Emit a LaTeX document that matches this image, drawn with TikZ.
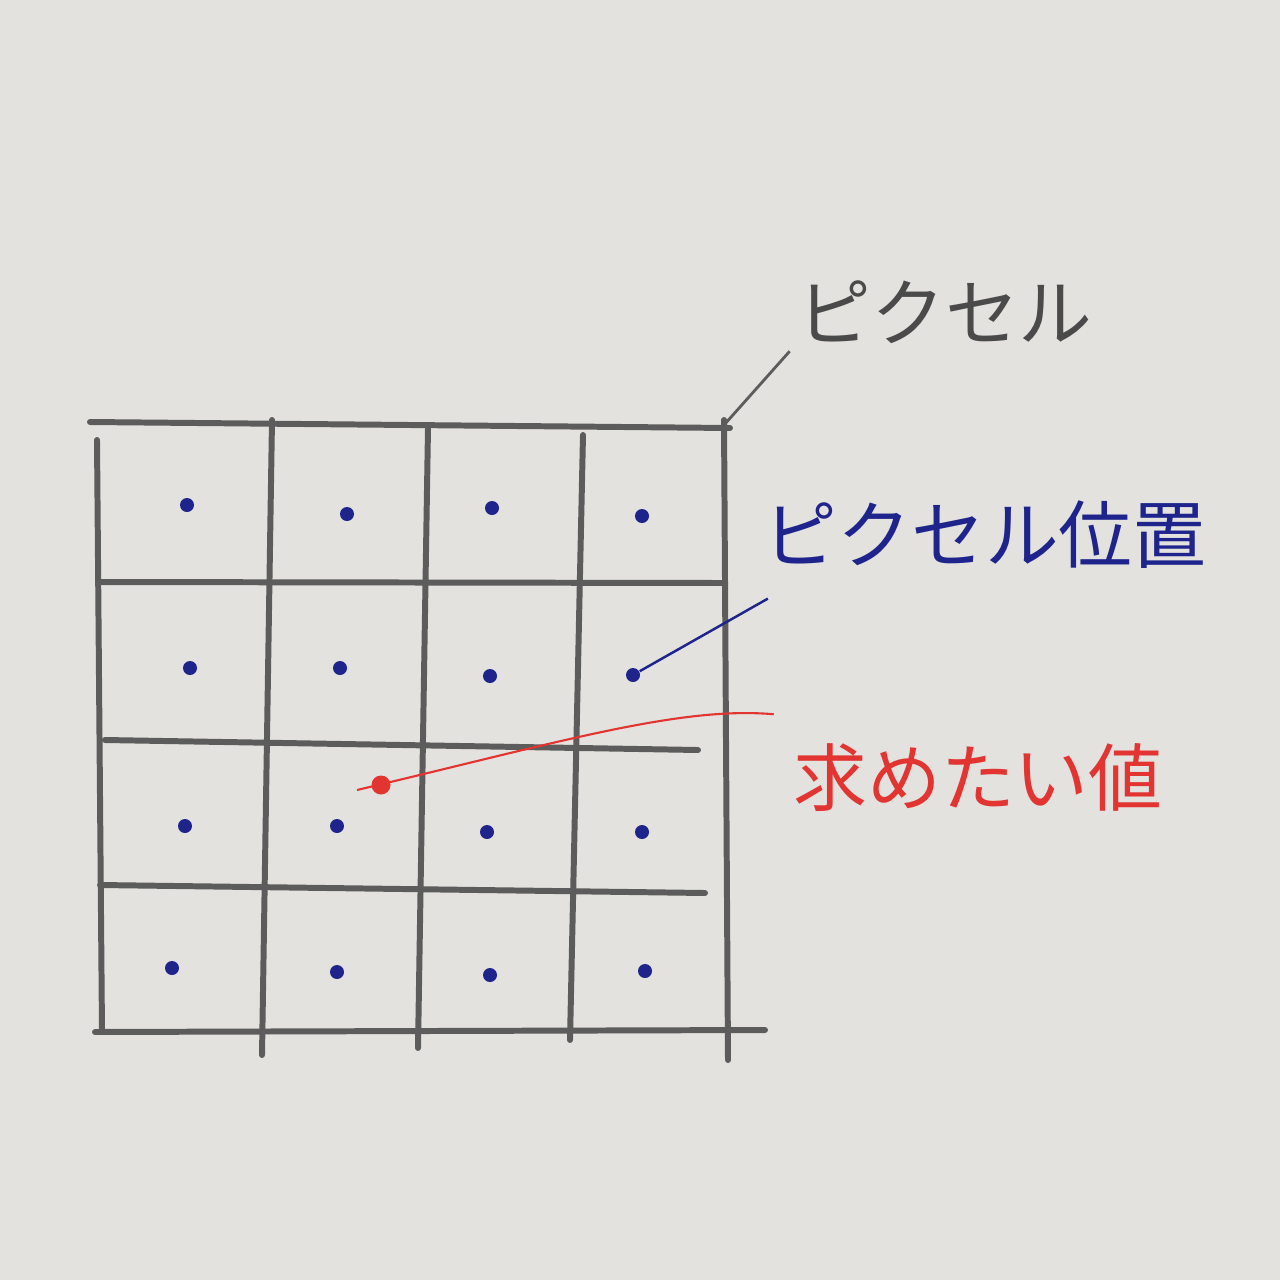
\documentclass[tikz,border=0pt]{standalone}
\usepackage{fontspec}
\newfontfamily\jpfont{Noto Sans CJK JP}
\usetikzlibrary{positioning}

\definecolor{paper}{RGB}{227,226,223}
\definecolor{pencil}{RGB}{92,92,92}
\definecolor{inkblue}{RGB}{30,36,140}
\definecolor{inkred}{RGB}{226,52,48}

\tikzset{
  gridline/.style={draw=pencil, line width=1.7pt, line cap=round},
  pixdot/.style={circle, fill=inkblue, inner sep=0pt, minimum size=1.4mm},
  reddot/.style={circle, fill=inkred, inner sep=0pt, minimum size=1.9mm},
  handlabel/.style={font=\jpfont\fontsize{21}{25}\selectfont, inner sep=2pt}
}

\begin{document}
\begin{tikzpicture}[x=0.1mm, y=-0.1mm]
  \useasboundingbox[fill=paper] (0,0) rectangle (1280,1280);

  % pixel grid
  \draw[gridline] (90,422) -- (730,428);
  \draw[gridline] (100,582) -- (725,583);
  \draw[gridline] (105,740) -- (698,750);
  \draw[gridline] (100,885) -- (705,893);
  \draw[gridline] (95,1032) -- (765,1030);
  \draw[gridline] (97,440) -- (102,1032);
  \draw[gridline] (272,420) -- (262,1055);
  \draw[gridline] (428,428) -- (418,1048);
  \draw[gridline] (583,435) -- (570,1040);
  \draw[gridline] (724,420) -- (728,1060);
  \coordinate (corner) at (724,425);

  % pixel positions
  \foreach \x/\y/\n in {187/505/a1, 347/514/a2, 492/508/a3, 642/516/a4,
                        190/668/b1, 340/668/b2, 490/676/b3, 633/675/b4,
                        185/826/c1, 337/826/c2, 487/832/c3, 642/832/c4,
                        172/968/d1, 337/972/d2, 490/975/d3, 645/971/d4}
    \node[pixdot] (\n) at (\x,\y) {};

  \node[reddot] (target) at (381,785) {};
  \coordinate (tail) at (357,790);

  % labels
  \node[handlabel, text=pencil!80!black] (pixlbl) at (945,312) {ピクセル};
  \node[handlabel, text=inkblue] (poslbl) at (985,535) {ピクセル位置};
  \node[handlabel, text=inkred] (vallbl) at (978,778) {求めたい値};
  \coordinate (posend) at ([shift={(12,22)}]poslbl.south west);
  \coordinate (valend) at ([shift={(-12,-22)}]vallbl.north west);

  % leaders
  \draw[pencil, line width=0.8pt] (corner) -- (pixlbl.south west);
  \draw[inkblue, line width=0.7pt] (b4) -- (posend);
  \draw[inkred, line width=0.6pt] (tail) .. controls (560,742) and (680,706) .. (valend);
\end{tikzpicture}
\end{document}
